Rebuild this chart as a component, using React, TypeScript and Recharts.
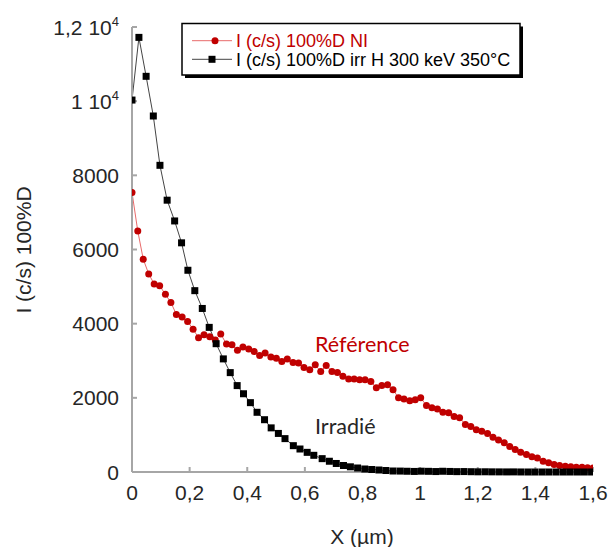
import { LineChart, Line, XAxis, YAxis } from "recharts";

// profil Réference (non irradié)
const redX = [
  0, 0.02, 0.039, 0.058, 0.077, 0.096, 0.116, 0.135, 0.154, 0.174,
  0.193, 0.212, 0.231, 0.25, 0.27, 0.289, 0.308, 0.328, 0.347, 0.366,
  0.385, 0.405, 0.424, 0.443, 0.462, 0.482, 0.501, 0.52, 0.539, 0.559,
  0.578, 0.597, 0.617, 0.636, 0.655, 0.674, 0.694, 0.713, 0.732, 0.752,
  0.771, 0.79, 0.809, 0.829, 0.848, 0.867, 0.887, 0.906, 0.925, 0.944,
  0.964, 0.983, 1.002, 1.022, 1.041, 1.06, 1.079, 1.099, 1.118, 1.137,
  1.157, 1.176, 1.195, 1.214, 1.234, 1.253, 1.272, 1.292, 1.311, 1.33,
  1.349, 1.369, 1.388, 1.407, 1.427, 1.446, 1.465, 1.484, 1.504, 1.523,
  1.542, 1.562, 1.581, 1.6,
];
const redY = [
  7540, 6500, 5740, 5340, 5070, 5020, 4790, 4570, 4250, 4180,
  4060, 3850, 3620, 3700, 3650, 3560, 3720, 3450, 3430, 3280,
  3370, 3320, 3250, 3140, 3210, 3100, 3070, 2980, 3050, 2950,
  2940, 2820, 2760, 2890, 2710, 2870, 2710, 2680, 2580, 2510,
  2510, 2490, 2490, 2440, 2270, 2330, 2350, 2220, 2000, 1970,
  1920, 1950, 2000, 1790, 1730, 1700, 1610, 1600, 1500, 1460,
  1280, 1230, 1140, 1100, 1040, 940, 860, 790, 690, 610,
  530, 470, 410, 380, 290, 250, 200, 175, 155, 140,
  130, 130, 115, 110,
];

// profil irradié H 300 keV 350°C
const blackX = [
  0, 0.024, 0.049, 0.074, 0.097, 0.122, 0.148, 0.172, 0.194, 0.218,
  0.244, 0.268, 0.292, 0.317, 0.341, 0.365, 0.387, 0.411, 0.434, 0.46,
  0.483, 0.508, 0.531, 0.56, 0.583, 0.608, 0.631, 0.66, 0.685, 0.709,
  0.734, 0.758, 0.783, 0.808, 0.832, 0.857, 0.881, 0.906, 0.931, 0.955,
  0.98, 1.004, 1.029, 1.054, 1.078, 1.103, 1.127, 1.152, 1.177, 1.201,
  1.226, 1.25, 1.275, 1.3, 1.324, 1.349, 1.374, 1.398, 1.423, 1.447,
  1.472, 1.497, 1.521, 1.546, 1.57, 1.595,
];
const blackY = [
  10030, 11720, 10670, 9600, 8270, 7330, 6770, 6180, 5440, 4890,
  4410, 3900, 3460, 3050, 2680, 2330, 2110, 1870, 1610, 1410,
  1190, 1040, 900, 710, 620, 530, 450, 360, 290, 230,
  175, 140, 108, 81, 67, 54, 40, 27, 25, 20,
  15, 22, 18, 12, 20, 15, 10, 12, 8, 5,
  6, 4, 3, 2, 3, 1, 0, 0, 0, 0,
  0, 0, 0, 0, 0, 0,
];

const xTicks = [0, 0.2, 0.4, 0.6, 0.8, 1, 1.2, 1.4, 1.6];
const yTicks = [0, 2000, 4000, 6000, 8000, 10000, 12000];

const redData = redX.map((x, i) => ({ x, y: redY[i] }));
const blackData = blackX.map((x, i) => ({ x, y: blackY[i] }));

const FONT = "'Liberation Sans', Arial, sans-serif";
const RED = "#c00000";

function RedDot(p: any) {
  return <circle key={"r" + p.index} cx={p.cx} cy={p.cy} r={3.5} fill={RED} />;
}

function BlackSquare(p: any) {
  return (
    <rect key={"b" + p.index} x={p.cx - 3.5} y={p.cy - 3.5} width={7} height={7} fill="#000" />
  );
}

function XTick({ x, y, payload }: any) {
  return (
    <text x={x} y={y} dy="0.71em" textAnchor="middle" fontSize={21} fontFamily={FONT} fill="#262626">
      {String(payload.value).replace(".", ",")}
    </text>
  );
}

function YTick({ x, y, payload }: any) {
  const v = payload.value;
  if (v >= 10000) {
    const m = String(v / 10000).replace(".", ",");
    return (
      <text x={x} y={y} dy="0.36em" textAnchor="end" fontSize={21} fontFamily={FONT} fill="#262626">
        <tspan>{m} 10</tspan>
        <tspan dy={-9} fontSize={13}>4</tspan>
      </text>
    );
  }
  return (
    <text x={x} y={y} dy="0.36em" textAnchor="end" fontSize={21} fontFamily={FONT} fill="#262626">
      {v}
    </text>
  );
}

export default function App() {
  return (
    <div style={{ position: "absolute", left: 0, top: 0, width: 609, height: 547, background: "#fff" }}>
      <LineChart width={609} height={547} margin={{ top: 27, right: 16, left: 0, bottom: 0 }}>
        <XAxis
          dataKey="x"
          type="number"
          domain={[0, 1.6]}
          ticks={xTicks}
          allowDataOverflow
          height={75}
          stroke="#a6a6a6"
          strokeWidth={2}
          tickSize={-5}
          tickMargin={18}
          tick={<XTick />}
        />
        <YAxis
          type="number"
          domain={[0, 12000]}
          ticks={yTicks}
          width={132}
          stroke="#a6a6a6"
          strokeWidth={2}
          tickSize={-5}
          tickMargin={18}
          tick={<YTick />}
        />
        <Line
          data={redData}
          dataKey="y"
          stroke="#e86a6a"
          strokeWidth={1}
          dot={RedDot}
          activeDot={false}
          isAnimationActive={false}
        />
        <Line
          data={blackData}
          dataKey="y"
          stroke="#444"
          strokeWidth={1}
          dot={BlackSquare}
          activeDot={false}
          isAnimationActive={false}
        />
        {/* titre axe Y */}
        <text x={23} y={250} transform="rotate(-90 23 250)" textAnchor="middle" dominantBaseline="central" fontSize={21} fontFamily={FONT} fill="#262626">
          I (c/s) 100%D
        </text>
        {/* titre axe X */}
        <text x={362} y={544} textAnchor="middle" fontSize={21} fontFamily={FONT} fill="#262626">
          X (µm)
        </text>
        {/* annotations */}
        <text x={315} y={352} fontSize={21.5} fontFamily="Lato, sans-serif" fill={RED}>
          Référence
        </text>
        <text x={315} y={434} fontSize={21.5} fontFamily="Lato, sans-serif" fill="#262626">
          Irradié
        </text>
        {/* légende */}
        <g>
          <rect x={185} y={26.5} width={338} height={51.5} fill="#000" />
          <rect x={182} y={23.5} width={338} height={51.5} fill="#fff" stroke="#000" strokeWidth={1.5} />
          <line x1={192} y1={40.7} x2={232} y2={40.7} stroke="#e86a6a" strokeWidth={1} />
          <circle cx={215} cy={40.7} r={3.5} fill={RED} />
          <text x={236} y={46.5} fontSize={18} fontFamily={FONT} fill={RED}>
            I (c/s) 100%D NI
          </text>
          <line x1={192} y1={59.3} x2={232} y2={59.3} stroke="#444" strokeWidth={1} />
          <rect x={208.5} y={55.8} width={7} height={7} fill="#000" />
          <text x={236} y={65.5} fontSize={18} fontFamily={FONT} fill="#000">
            I (c/s) 100%D irr H 300 keV 350°C
          </text>
        </g>
      </LineChart>
    </div>
  );
}
